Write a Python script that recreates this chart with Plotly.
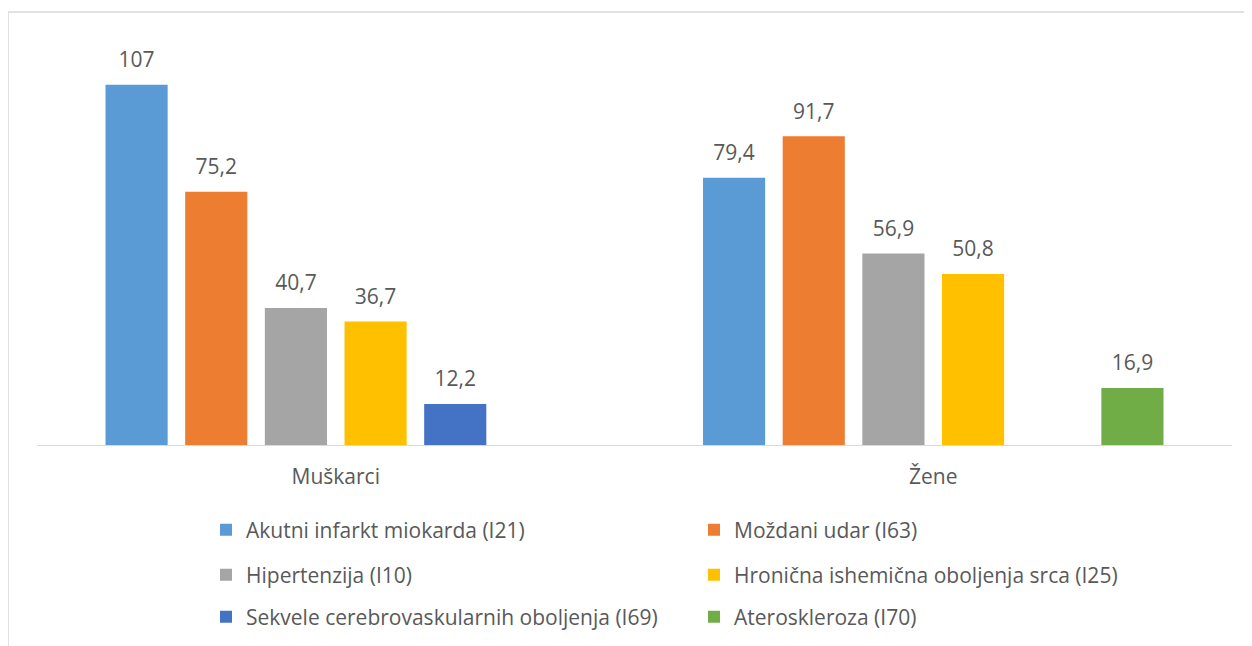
import plotly.graph_objects as go

categories = ["Muškarci", "Žene"]
series_names = [
    "Akutni infarkt miokarda (I21)",
    "Moždani udar (I63)",
    "Hipertenzija (I10)",
    "Hronična ishemična oboljenja srca (I25)",
    "Sekvele cerebrovaskularnih oboljenja (I69)",
    "Ateroskleroza (I70)",
]
akutni_infarkt = [107, 79.4]
mozdani_udar = [75.2, 91.7]
hipertenzija = [40.7, 56.9]
hronicna_ishemicna = [36.7, 50.8]
sekvele = [12.2, None]
ateroskleroza = [None, 16.9]
series_values = [akutni_infarkt, mozdani_udar, hipertenzija, hronicna_ishemicna, sekvele, ateroskleroza]
colors = ["#5B9BD5", "#ED7D31", "#A5A5A5", "#FFC000", "#4472C4", "#70AD47"]

legend_ids = ["legend", "legend", "legend2", "legend2", "legend3", "legend3"]

FONT = "Open Sans, Noto Sans, sans-serif"
GRAY = "#595959"
LABEL_SIZE = 21


def fmt(v):
    if v is None:
        return ""
    s = f"{v:g}".replace(".", ",")
    return f"<span style='font-size:{LABEL_SIZE}px'>{s}</span><br>\u00a0"


fig = go.Figure()
for name, vals, col, lg in zip(series_names, series_values, colors, legend_ids):
    fig.add_trace(go.Bar(
        x=categories, y=vals, name=name, marker_color=col, marker_line_width=0,
        text=[fmt(v) for v in vals], textposition="outside", cliponaxis=False,
        constraintext="none",
        textfont=dict(size=9, color=GRAY, family=FONT),
        legend=lg,
    ))

PLOT_H = 404.0
PLOT_W = 1195.0
BASE = 445


def py(pix):
    return (BASE - pix) / PLOT_H


def px(pix):
    return (pix - 37) / PLOT_W


leg_common = dict(orientation="h", xanchor="left", yanchor="middle",
                  font=dict(size=21, color=GRAY, family=FONT),
                  entrywidth=443, entrywidthmode="pixels",
                  bgcolor="rgba(0,0,0,0)", traceorder="normal")
fig.update_layout(
    width=1244, height=638,
    margin=dict(l=29, r=20, t=33, b=201, autoexpand=False),
    paper_bgcolor="white", plot_bgcolor="white",
    barmode="group", bargap=0.2, bargroupgap=0.22,
    showlegend=True,
    legend=dict(x=px(206), y=py(530), **leg_common),
    legend2=dict(x=px(206), y=py(575), **leg_common),
    legend3=dict(x=px(206), y=py(617), **leg_common),
    xaxis=dict(showline=True, linecolor="#D9D9D9", linewidth=1, ticks="",
               ticklabelstandoff=13,
               tickfont=dict(size=21, color=GRAY, family=FONT), showgrid=False),
    yaxis=dict(range=[0, 120], visible=False, showgrid=False, zeroline=False),
    shapes=[
        dict(type="line", xref="paper", yref="paper", x0=px(8), x1=px(1300),
             y0=py(12), y1=py(12), line=dict(color="#D9D9D9", width=1.5)),
        dict(type="line", xref="paper", yref="paper", x0=px(8), x1=px(8),
             y0=py(12), y1=py(700), line=dict(color="#D9D9D9", width=1.5)),
    ],
)

fig.write_html("out.html")
